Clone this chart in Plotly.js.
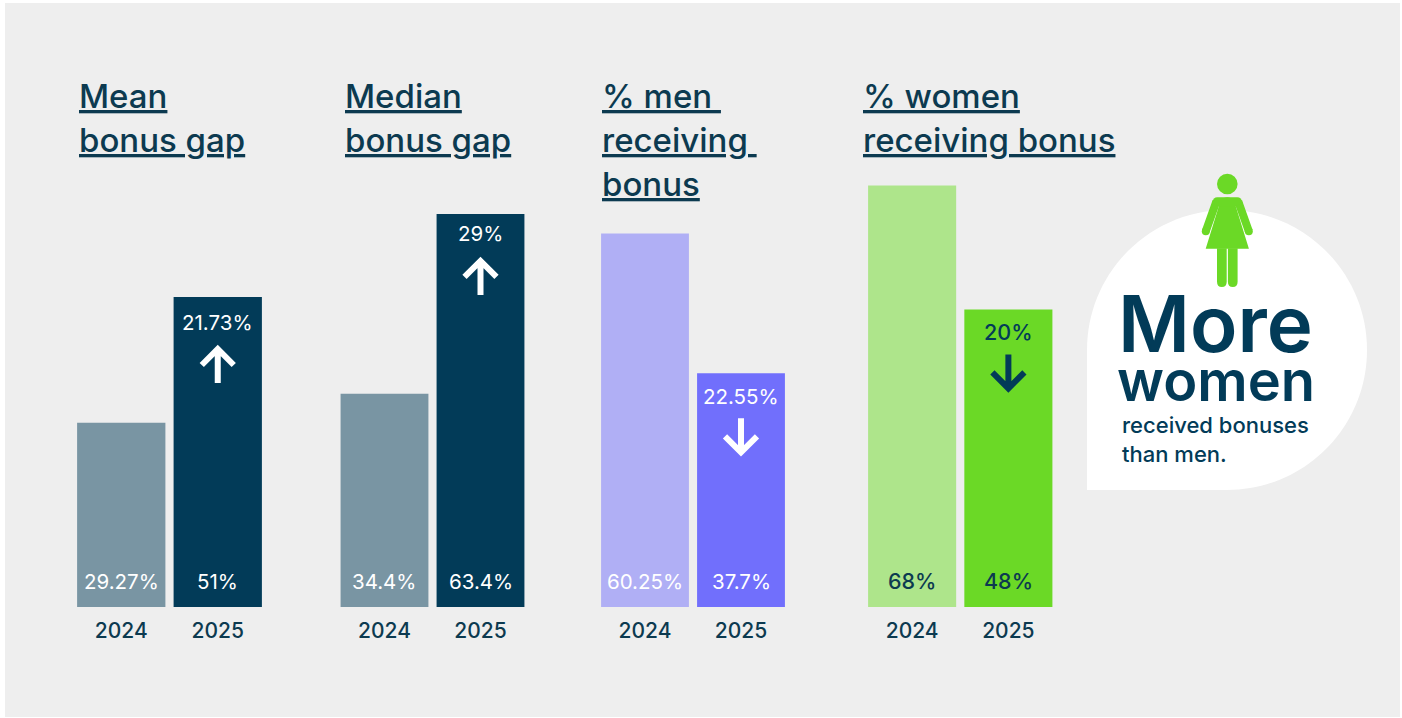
<!DOCTYPE html>
<html>
<head>
<meta charset="utf-8">
<script src="https://cdn.plot.ly/plotly-3.0.1.min.js"></script>
<style>html,body{margin:0;padding:0;background:#fff;overflow:hidden}#chart{width:1402px;height:718px}</style>
</head>
<body>
<div id="chart"></div>
<script>
// ---- data ----
const years = ["2024", "2025"];
const meanBarHeights = [29.7, 50];
const medianBarHeights = [34.4, 63.4];
const menBarHeights = [60.25, 37.7];
const womenBarHeights = [68, 48];
const meanLabels = ["29.27%", "51%"];
const medianLabels = ["34.4%", "63.4%"];
const menLabels = ["60.25%", "37.7%"];
const womenLabels = ["68%", "48%"];
const changeLabels = ["21.73%", "29%", "22.55%", "20%"];
const titleLines = [["Mean", "bonus gap"], ["Median", "bonus gap"], ["% men\u00a0", "receiving\u00a0", "bonus"], ["% women", "receiving bonus"]];
const calloutWords = ["More", "women", "received bonuses", "than men."];

// ---- styling / layout ----
const W = 1402, H = 718;
const NAVY = "#023b58", INK = "#0c3a50", WHITE = "#ffffff";
const FONT = "Inter, 'Noto Sans', sans-serif";
const px = v => v / W, py = v => 1 - v / H;
const BASE = 607, PXPER = 6.2, YMAX = 80;

const groups = [
  {h: meanBarHeights, lab: meanLabels, col: ["#7995a3", NAVY], dom: [73, 266], titleX: 77, up: true,  chg: 25, arr: 48, labCol: WHITE, chgCol: WHITE, arrCol: WHITE, size: 20.5, wt: 400},
  {h: medianBarHeights, lab: medianLabels, col: ["#7995a3", NAVY], dom: [336.5, 528.5], titleX: 343, up: true, chg: 20, arr: 43, labCol: WHITE, chgCol: WHITE, arrCol: WHITE, size: 20.5, wt: 400},
  {h: menBarHeights, lab: menLabels, col: ["#b0aff5", "#716ffc"], dom: [597, 789], titleX: 600, up: false, chg: 23, arr: 45, labCol: WHITE, chgCol: WHITE, arrCol: WHITE, size: 20.5, wt: 400},
  {h: womenBarHeights, lab: womenLabels, col: ["#aee58b", "#6bd926"], dom: [864, 1056.5], titleX: 861, up: false, chg: 23, arr: 45, labCol: INK, chgCol: NAVY, arrCol: NAVY, size: 21.5, wt: 500}
];

const traces = [], annotations = [], shapes = [];
const layout = {
  width: W, height: H, margin: {l: 0, r: 0, t: 0, b: 0},
  paper_bgcolor: WHITE, plot_bgcolor: "rgba(0,0,0,0)", showlegend: false, hovermode: false,
  font: {family: FONT, color: INK},
  yaxis: {domain: [py(BASE), py(BASE - YMAX * PXPER)], range: [0, YMAX], visible: false, fixedrange: true}
};

// panel
shapes.push({type: "rect", xref: "paper", yref: "paper", layer: "below",
  x0: px(5), x1: px(1400), y0: py(717), y1: py(3), fillcolor: "#eeeeee", line: {width: 0}});

groups.forEach((g, i) => {
  const n = i === 0 ? "" : String(i + 1);
  const xa = "x" + n;
  layout["xaxis" + n] = {
    domain: [px(g.dom[0]), px(g.dom[1])], anchor: "y", type: "category", categoryorder: "array", categoryarray: years,
    range: [-0.5, 1.5], autorange: false,
    showgrid: false, zeroline: false, showline: false, ticks: "outside", ticklen: 5, tickcolor: "rgba(0,0,0,0)",
    tickfont: {family: FONT, size: 21, color: INK, weight: 500}, fixedrange: true
  };
  traces.push({type: "bar", x: years, y: g.h, xaxis: xa, yaxis: "y", marker: {color: g.col, line: {width: 0}}, width: 0.915, cliponaxis: false});

  // value labels sitting near the foot of each bar (position = category index)
  years.forEach((yr, j) => annotations.push({
    xref: xa, yref: "y", x: j, y: 0, yshift: 26, yanchor: "middle", xanchor: "center", showarrow: false,
    text: g.lab[j], font: {family: FONT, size: g.size, color: g.labCol, weight: g.wt}
  }));
  // change label at head of the 2025 bar
  annotations.push({
    xref: xa, yref: "y", x: 1, y: g.h[1], yshift: -g.chg, yanchor: "middle", xanchor: "center", showarrow: false,
    text: changeLabels[i], font: {family: FONT, size: g.size, color: g.chgCol, weight: g.wt}
  });
  // arrow
  const a = -g.arr, hw = 16, hd = 16;
  const path = g.up
    ? `M 0 ${a - 38} L 0 ${a - 4} M ${-hw} ${a - 4 - hd} L 0 ${a - 4} L ${hw} ${a - 4 - hd}`
    : `M 0 ${a} L 0 ${a - 34} M ${-hw} ${a - 34 + hd} L 0 ${a - 34} L ${hw} ${a - 34 + hd}`;
  shapes.push({type: "path", xref: xa, yref: "y", xsizemode: "pixel", ysizemode: "pixel",
    xanchor: 1, yanchor: g.h[1], path: path, line: {color: g.arrCol, width: 6}, fillcolor: "rgba(0,0,0,0)"});

  // titles
  titleLines[i].forEach((t, k) => annotations.push({
    xref: "paper", yref: "paper", x: px(g.titleX), y: py(96 + 44 * k), xanchor: "left", yanchor: "middle", showarrow: false,
    text: "<u>" + t + "</u>", font: {family: FONT, size: 33, color: INK, weight: 500}
  }));
});

// callout teardrop
const cx = 1227, cy = 350, r = 140, k = r * 0.5523;
const rel = (dx, dy) => `${dx} ${-dy}`;
shapes.push({type: "path", xref: "paper", yref: "paper", xsizemode: "pixel", ysizemode: "pixel",
  xanchor: px(cx), yanchor: py(cy), fillcolor: WHITE, line: {width: 0},
  path: `M ${rel(-r, r)} L ${rel(-r, 0)} C ${rel(-r, -k)} ${rel(-k, -r)} ${rel(0, -r)} C ${rel(k, -r)} ${rel(r, -k)} ${rel(r, 0)} C ${rel(r, k)} ${rel(k, r)} ${rel(0, r)} Z`});

// woman icon (origin at hem of the dress)
const GREEN = "#6bd926";
const icon = {xref: "paper", yref: "paper", xsizemode: "pixel", ysizemode: "pixel", xanchor: px(1227.3), yanchor: py(248.7)};
shapes.push(Object.assign({}, icon, {type: "circle", x0: -10.3, x1: 10.3, y0: 54.4, y1: 75, fillcolor: GREEN, line: {width: 0}}));
shapes.push(Object.assign({}, icon, {type: "path", fillcolor: GREEN, line: {width: 0},
  path: `M -21.6 0 L -8 44 Q -6 51.4 0 51.4 Q 6 51.4 8 44 L 21.6 0 Z`}));
shapes.push(Object.assign({}, icon, {type: "path", line: {color: GREEN, width: 8}, fillcolor: "rgba(0,0,0,0)",
  path: `M -11 47 L -21.5 17.5 M 11 47 L 21.5 17.5`}));
shapes.push(Object.assign({}, icon, {type: "path", fillcolor: GREEN, line: {width: 0},
  path: `M -10 51.4 L 10 51.4 Q 14 51.4 15.2 46 L 7 42 L -7 42 L -15.2 46 Q -14 51.4 -10 51.4 Z`}));
shapes.push(Object.assign({}, icon, {type: "circle", fillcolor: GREEN, line: {width: 0}, x0: -25.5, x1: -17.5, y0: 13.5, y1: 21.5}));
shapes.push(Object.assign({}, icon, {type: "circle", fillcolor: GREEN, line: {width: 0}, x0: 17.5, x1: 25.5, y0: 13.5, y1: 21.5}));
shapes.push(Object.assign({}, icon, {type: "path", fillcolor: GREEN, line: {width: 0},
  path: `M -10.3 0.5 L -0.6 0.5 L -0.6 -33 Q -0.6 -38.3 -5.5 -38.3 Q -10.3 -38.3 -10.3 -33 Z`}));
shapes.push(Object.assign({}, icon, {type: "path", fillcolor: GREEN, line: {width: 0},
  path: `M 0.6 0.5 L 10.3 0.5 L 10.3 -33 Q 10.3 -38.3 5.5 -38.3 Q 0.6 -38.3 0.6 -33 Z`}));

// callout text
[[calloutWords[0], 1116, 323, 78, 600], [calloutWords[1], 1115, 381, 56, 600],
 [calloutWords[2], 1120, 425, 22, 500], [calloutWords[3], 1120, 454, 22, 500]].forEach(c => annotations.push({
  xref: "paper", yref: "paper", x: px(c[1]), y: py(c[2]), xanchor: "left", yanchor: "middle", showarrow: false,
  text: c[0], font: {family: FONT, size: c[3], color: NAVY, weight: c[4]}
}));

layout.shapes = shapes;
layout.annotations = annotations;
Plotly.newPlot("chart", traces, layout, {displayModeBar: false, staticPlot: true, responsive: false});
</script>
</body>
</html>
